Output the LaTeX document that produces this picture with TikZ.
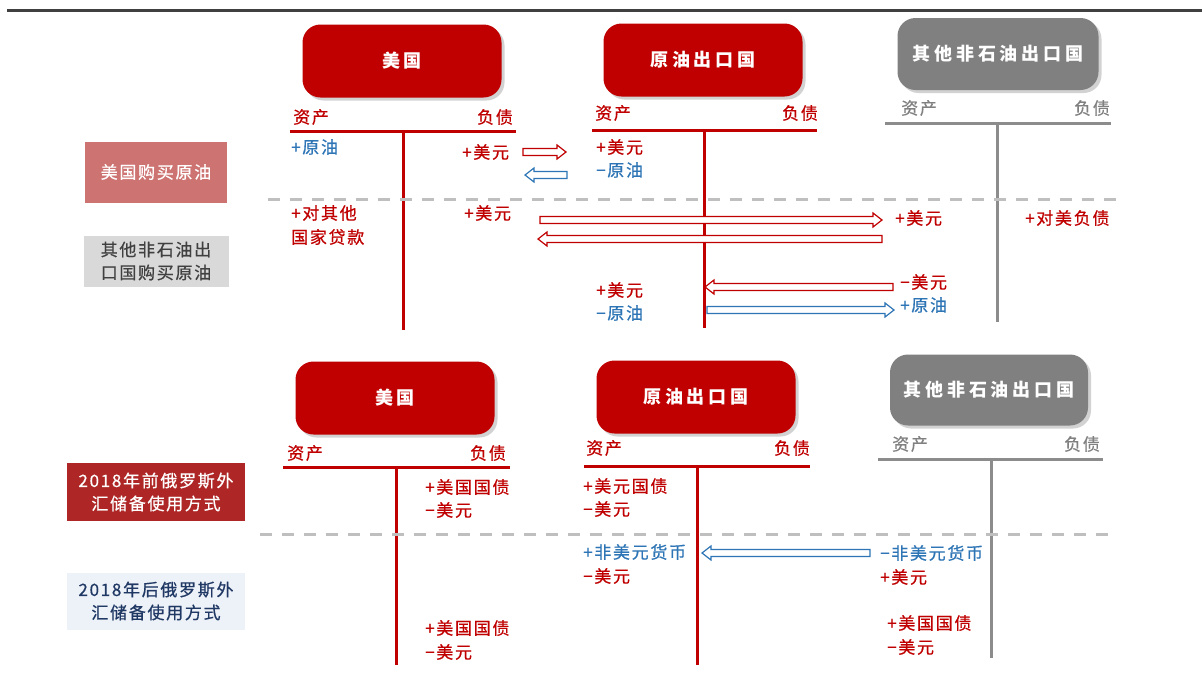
\documentclass[tikz,border=0pt]{standalone}
\usepackage{fontspec}
\setmainfont{Noto Sans CJK SC}
\newfontfamily\cjk[LetterSpace=10,FakeBold=0.6]{Noto Sans CJK SC}
\newfontfamily\cjkt[LetterSpace=22]{Noto Sans CJK SC}
\usetikzlibrary{shadows,calc}
\definecolor{myred}{HTML}{C00000}
\definecolor{myblue}{HTML}{2E75B6}
\definecolor{mygray}{HTML}{808080}
\definecolor{tgray}{HTML}{8C8C8C}
\definecolor{lgray}{HTML}{BFBFBF}
\definecolor{pinkbox}{HTML}{CD7371}
\definecolor{dred}{HTML}{AE2626}
\definecolor{lblue}{HTML}{EDF1F8}
\definecolor{navy}{HTML}{1F3864}
\definecolor{dgray}{HTML}{404040}
\definecolor{boxgray}{HTML}{D9D9D9}
\newcommand\harr[3]{\draw[#3, line width=1.2pt, fill=white] let \p1=(#1), \p2=(#2), \n1={sign(\x2-\x1)} in
  (\x1,{\y1+3.5pt}) -- ({\x2-\n1*9pt},{\y1+3.5pt}) -- ({\x2-\n1*9pt},{\y1+7pt}) -- (\x2,\y1)
  -- ({\x2-\n1*9pt},{\y1-7pt}) -- ({\x2-\n1*9pt},{\y1-3.5pt}) -- (\x1,{\y1-3.5pt}) -- cycle;}
\begin{document}
\begin{tikzpicture}[x=1pt,y=-1pt,font=\cjk\fontsize{17}{19}\selectfont,
  title/.style={rounded corners=18pt, minimum width=199pt, minimum height=73pt, text=white,
    font=\cjkt\fontsize{18}{20}\selectfont\bfseries, inner sep=0pt,
    drop shadow={shadow xshift=3pt, shadow yshift=-3pt, opacity=0.35}},
  redbox/.style={title, fill=myred},
  graybox/.style={title, fill=mygray},
  rt/.style={text=myred, anchor=west, inner sep=0pt},
  bt/.style={text=myblue, anchor=west, inner sep=0pt},
  hr/.style={text=myred, inner sep=0pt},
  hg/.style={text=mygray, inner sep=0pt},
  redline/.style={draw=myred, line width=3pt},
  grayline/.style={draw=tgray, line width=3pt},
  sep/.style={draw=lgray, line width=3pt, dash pattern=on 12pt off 10pt},
  lab/.style={inner sep=0pt, align=center, font=\cjk\fontsize{17}{23}\selectfont}
]
\useasboundingbox (0,0) rectangle (1202,673);
\fill[white] (0,0) rectangle (1202,673);
\draw[dgray, line width=3pt] (7,10) -- (1202,10);

% ---------- section 1 ----------
\node[redbox] (us1) at (402,61) {美国};
\node[redbox] (oil1) at (703,60) {原油出口国};
\node[graybox, minimum width=201pt, minimum height=72pt] (oth1) at (998,54) {其他非石油出口国};

\node[lab, fill=pinkbox, text=white, minimum width=142pt, minimum height=61pt] (l1) at (156,172) {美国购买原油};
\node[lab, fill=boxgray, text=dgray, minimum width=145pt, minimum height=51pt] (l2) at (156,261) {其他非石油出\\口国购买原油};

% US T-account
\draw[redline] (290,131) -- (516,131);
\draw[redline] (403,131) -- (403,330);
\node[hr, anchor=west] (us1a) at (293,117) {资产};
\node[hr, anchor=east] (us1l) at (513,117) {负债};
% oil T-account
\draw[redline] (592,130) -- (817,130);
\draw[redline] (704,130) -- (704,328);
\node[hr, anchor=west] (oil1a) at (595,113) {资产};
\node[hr, anchor=east] (oil1l) at (818,113) {负债};
% other T-account
\draw[grayline] (885,123) -- (1111,123);
\draw[grayline] (997,123) -- (997,322);
\node[hg, anchor=west] (oth1a) at (901,108) {资产};
\node[hg, anchor=east] (oth1l) at (1110,108) {负债};

\draw[sep] (268,199) -- (1117,199);

\node[bt] (t1) at (291,147) {+原油};
\node[rt] (t2) at (462,152) {+美元};
\node[rt] (t3) at (596,147) {+美元};
\node[bt] (t4) at (596,170) {−原油};
\coordinate (a1s) at (523,152); \coordinate (a1e) at (566,152);
\coordinate (a2s) at (567,175); \coordinate (a2e) at (525,175);
\harr{a1s}{a1e}{myred}
\harr{a2s}{a2e}{myblue}

\node[rt] (t5) at (291,213) {+对其他};
\node[rt] (t6) at (291,237) {国家贷款};
\node[rt] (t7) at (464,213) {+美元};
\coordinate (a3s) at (540,220); \coordinate (a3e) at (882,220);
\coordinate (a4s) at (882,239); \coordinate (a4e) at (538,239);
\harr{a3s}{a3e}{myred}
\harr{a4s}{a4e}{myred}
\node[rt] (t8) at (895,218) {+美元};
\node[rt] (t9) at (1025,218) {+对美负债};
\node[rt] (t10) at (900,282) {−美元};
\node[bt] (t11) at (900,305) {+原油};
\coordinate (a5s) at (893,287); \coordinate (a5e) at (705,287);
\coordinate (a6s) at (707,310); \coordinate (a6e) at (894,310);
\harr{a5s}{a5e}{myred}
\harr{a6s}{a6e}{myblue}
\node[rt] (t12) at (596,290) {+美元};
\node[bt] (t13) at (596,313) {−原油};

% ---------- section 2 ----------
\node[redbox] (us2) at (395,398) {美国};
\node[redbox] (oil2) at (696,397) {原油出口国};
\node[graybox, minimum width=198pt, minimum height=71pt] (oth2) at (989,390) {其他非石油出口国};

\node[lab, fill=dred, text=white, minimum width=178pt, minimum height=58pt] (l3) at (156,492) {2018年前俄罗斯外\\汇储备使用方式};
\node[lab, fill=lblue, text=navy, minimum width=178pt, minimum height=57pt] (l4) at (156,601) {2018年后俄罗斯外\\汇储备使用方式};

\draw[redline] (283,467) -- (510,467);
\draw[redline] (396,467) -- (396,665);
\node[hr, anchor=west] (us2a) at (287,453) {资产};
\node[hr, anchor=east] (us2l) at (506,453) {负债};
\draw[redline] (584,466) -- (810,466);
\draw[redline] (697,466) -- (697,665);
\node[hr, anchor=west] (oil2a) at (586,448) {资产};
\node[hr, anchor=east] (oil2l) at (810,448) {负债};
\draw[grayline] (878,459) -- (1103,459);
\draw[grayline] (991,459) -- (991,658);
\node[hg, anchor=west] (oth2a) at (892,444) {资产};
\node[hg, anchor=east] (oth2l) at (1100,444) {负债};

\draw[sep] (260,534) -- (1110,534);

\node[rt] (s1) at (425,487) {+美国国债};
\node[rt] (s2) at (425,510) {−美元};
\node[rt] (s3) at (583,486) {+美元国债};
\node[rt] (s4) at (583,509) {−美元};
\node[bt] (s5) at (583,552) {+非美元货币};
\node[rt] (s6) at (583,576) {−美元};
\coordinate (a7s) at (870,553); \coordinate (a7e) at (702,553);
\harr{a7s}{a7e}{myblue}
\node[bt] (s7) at (880,553) {−非美元货币};
\node[rt] (s8) at (880,577) {+美元};
\node[rt] (s9) at (887,623) {+美国国债};
\node[rt] (s10) at (887,647) {−美元};
\node[rt] (s11) at (425,628) {+美国国债};
\node[rt] (s12) at (425,652) {−美元};
\end{tikzpicture}
\end{document}
